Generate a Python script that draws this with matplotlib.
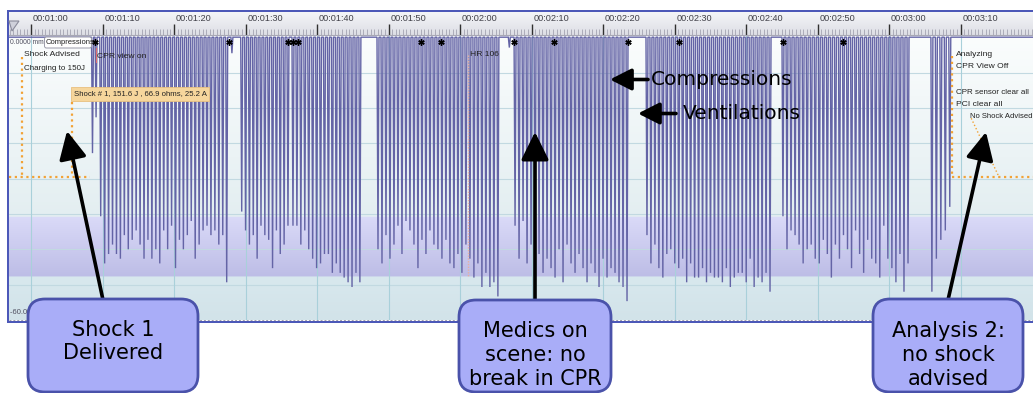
import numpy as np
import matplotlib
matplotlib.use("Agg")
import matplotlib.pyplot as plt
from matplotlib.patches import FancyBboxPatch, Rectangle, Polygon
from matplotlib.colors import to_rgb

# ------------------------------------------------------------------ data
tick_seconds = [60, 70, 80, 90, 100, 110, 120, 130, 140, 150, 160, 170, 180, 190]
tick_labels = ["00:01:00", "00:01:10", "00:01:20", "00:01:30", "00:01:40",
               "00:01:50", "00:02:00", "00:02:10", "00:02:20", "00:02:30",
               "00:02:40", "00:02:50", "00:03:00", "00:03:10"]

# compression blocks (seconds) and the depth (mm) of every compression in them
seg_start = [69.75, 89.47, 96.64, 108.53, 127.7, 146.15, 165.17, 186.0]
seg_end = [87.37, 95.94, 106.0, 125.3, 143.36, 163.36, 182.66, 188.5]
depth_seg1 = [-38, -48, -46, -44, -46, -47, -42, -45, -43, -41, -44, -47, -43, -47,
              -45, -48, -41, -45, -40, -49, -43, -45, -42, -39, -47, -44, -41, -40,
              -42, -41, -44, -42, -52]
depth_seg2 = [-37, -41, -44, -42, -47, -40, -42, -43, -49, -41, -46, -44, -40]
depth_seg3 = [-40, -40, -44, -41, -45, -47, -49, -48, -46, -46, -50, -48, -50, -51,
              -52, -53, -50, -52]
depth_seg4 = [-45, -48, -42, -47, -44, -40, -46, -39, -41, -44, -49, -43, -46, -41,
              -44, -45, -47, -43, -48, -49, -46, -50, -44, -47, -51, -48, -53, -50,
              -53, -52, -55]
depth_seg5 = [-40, -47, -39, -48, -44, -51, -46, -50, -47, -49, -51, -45, -52, -44,
              -48, -50, -46, -49, -52, -48, -50, -53, -47, -51, -49, -50, -52, -53,
              -56]
depth_seg6 = [-42, -48, -44, -49, -51, -46, -45, -48, -49, -47, -52, -48, -51, -51,
              -49, -52, -50, -51, -51, -52, -49, -53, -51, -50, -50, -52, -47, -53,
              -51, -52, -50, -54]
depth_seg7 = [-38, -45, -41, -42, -44, -48, -45, -44, -47, -48, -43, -46, -51, -44,
              -47, -42, -45, -49, -41, -46, -50, -43, -47, -48, -51, -40, -47, -49,
              -52, -46, -54, -48]
depth_seg8 = [-54, -47, -43, -41, -36]
seg_depths = [depth_seg1, depth_seg2, depth_seg3, depth_seg4,
              depth_seg5, depth_seg6, depth_seg7, depth_seg8]

# isolated small deflections outside the blocks
extra_t = [68.6, 69.1, 88.1, 126.9]
extra_d = [-24.6, -17.0, -3.4, -2.2]

# ventilation markers (*)
vent_t = [68.95, 87.69, 95.94, 96.64, 97.34, 114.55, 117.34, 127.55,
          133.15, 143.50, 150.63, 165.17, 173.57]

# events
shock_advised_t = 58.75
shock_delivered_t = 65.73
hr_t = 121.1
analyze_t = 188.85
event_level = -29.7
target_band = (-50.8, -38.1)

# ------------------------------------------------------------------ layout helpers
W, H = 1033, 393
fig = plt.figure(figsize=(W / 100, H / 100), dpi=100)
fig.patch.set_facecolor("white")

T0 = 60 - 22 / 7.15
T1 = 60 + 1002 / 7.15
Y0, Y1 = -60.0, 0.25


def ax_px(x0, y0, x1, y1, **kw):
    return fig.add_axes([x0 / W, 1 - y1 / H, (x1 - x0) / W, (y1 - y0) / H], **kw)


NARROW = ["Liberation Sans", "DejaVu Sans"]

# ------------------------------------------------------------------ data panel
ax = ax_px(9, 36, W, 320)
ax.set_xlim(T0, T1)
ax.set_ylim(Y0, Y1)
ax.axis("off")

# background gradient
ys = np.linspace(Y1, Y0, 600)
img = np.zeros((len(ys), 1, 3))


def lerp(c1, c2, f):
    a, b = np.array(to_rgb(c1)), np.array(to_rgb(c2))
    return a + (b - a) * f


for i, yv in enumerate(ys):
    if yv > target_band[1]:
        f = (Y1 - yv) / (Y1 - target_band[1])
        img[i, 0] = lerp("#fbfdfd", "#e3eef1", f)
    elif yv > target_band[0]:
        f = (target_band[1] - yv) / (target_band[1] - target_band[0])
        img[i, 0] = lerp("#dadaf8", "#bdbde6", f)
    else:
        f = (target_band[0] - yv) / (target_band[0] - Y0)
        img[i, 0] = lerp("#d8e8ee", "#d2e3e9", f)
ax.imshow(img, extent=[T0, T1, Y0, Y1], aspect="auto", zorder=0,
          interpolation="bilinear")

for k in range(1, 8):
    ax.axhline(-7.5 * k, color="#c2d9e1", lw=0.8, zorder=1)
for t in tick_seconds:
    ax.axvline(t, color="#a9d0da", lw=0.8, zorder=1)

# waveform
events = []
for s, e, d in zip(seg_start, seg_end, seg_depths):
    for t, dv in zip(np.linspace(s, e, len(d)), d):
        events.append((t, dv))
events += list(zip(extra_t, extra_d))
events.sort()
hw = 0.14
wx, wy = [T0], [0.0]
for t, dv in events:
    wx += [t - hw, t, t + hw]
    wy += [0.0, dv, 0.0]
wx.append(T1)
wy.append(0.0)
ax.plot(wx, wy, color="#6464a6", lw=1.0, zorder=3, solid_joinstyle="miter")

# ventilation asterisks
ax.plot(vent_t, [-0.95] * len(vent_t), ls="", marker=(6, 2, 0), ms=4.5,
        mec="black", mew=1.0, zorder=5)

# event lines (orange dotted)
orange = "#f2a235"
dot = dict(color=orange, lw=1.6, ls=(0, (1, 1.6)), zorder=4)
ax.plot([shock_advised_t, shock_advised_t], [-4.3, event_level], **dot)
ax.plot([shock_delivered_t, shock_delivered_t], [-13.7, event_level], **dot)
ax.plot([T0, 68.2], [event_level, event_level], **dot)
ax.plot([analyze_t, analyze_t], [-4.0, event_level], **dot)
ax.plot([analyze_t, T1], [event_level, event_level], **dot)
ax.plot([191.5, 195.4], [-17.2, event_level], color=orange, lw=1.0,
        ls=(0, (1, 1.6)), zorder=4)
ax.plot([hr_t, hr_t], [-3.7, -50.6], color="#e8b0a0", lw=1.0,
        ls=(0, (1, 1)), zorder=4)

# ------------------------------------------------------------------ ruler
rax = ax_px(9, 12, W, 36)
rax.set_xlim(T0, T1)
rax.set_ylim(0, 24)
rax.axis("off")
rg = np.zeros((50, 1, 3))
for i in range(50):
    rg[i, 0] = lerp("#f4f5f8", "#dcdde4", i / 49)
rax.imshow(rg, extent=[T0, T1, 0, 24], aspect="auto", zorder=0)
minor = np.arange(57.0, 200.2, 0.5)
rax.vlines(minor, 0.5, 7.0, color="#a4a4b2", lw=0.6, zorder=1)
rax.vlines(tick_seconds, 0.5, 12, color="#303030", lw=1.0, zorder=2)
rax.axhline(0.6, color="#a8a8b4", lw=0.8, zorder=2)
for t, lab in zip(tick_seconds, tick_labels):
    rax.text(t + 0.25, 17.5, lab, fontsize=6.6, family=NARROW, color="#404048",
             ha="left", va="center", zorder=3)

# ------------------------------------------------------------------ overlay (pixel space)
ov = fig.add_axes([0, 0, 1, 1], zorder=10)
ov.set_xlim(0, W)
ov.set_ylim(H, 0)
ov.axis("off")
ov.patch.set_alpha(0)

# frame
blue = "#4c58b8"
ov.add_patch(Rectangle((7.5, 9.5), W, 2.5, color=blue, lw=0))
ov.add_patch(Rectangle((7, 9.5), 2.2, 313.5, color=blue, lw=0))
ov.add_patch(Rectangle((7, 321), W, 2.2, color=blue, lw=0))
ov.plot([9, W], [319.5, 319.5], color="#a0a0aa", lw=0.7, ls=(0, (2, 2)))
ov.add_patch(Polygon([(9, 21), (19, 21), (12, 31)], closed=True,
                     facecolor="#cfd0da", edgecolor="#8a8a9a", lw=0.8))

# small chart labels
small = dict(fontsize=6.1, family=NARROW, color="#222222", va="center", ha="left")
ov.text(9.8, 42, "0.0000 mm", **dict(small, fontsize=4.9, color="#505060"))
ov.add_patch(FancyBboxPatch((44.5, 37), 47, 11, boxstyle="round,pad=0,rounding_size=2",
                            facecolor="white", edgecolor="#9a9aa8", lw=0.7))
ov.text(46, 42.5, "Compressions", **dict(small, fontsize=5.5))
ov.text(24, 54.5, "Shock Advised", **small)
ov.text(24, 68, "Charging to 150J", **dict(small, fontsize=5.8))
ov.plot([95.7, 95.7], [48, 62], color="#e07070", lw=0.8)
ov.text(97, 56, "CPR view on", **small)
ov.add_patch(Rectangle((71, 87), 138, 14, facecolor="#f6d69c",
                       edgecolor="#e8c080", lw=0.6))
ov.text(73.5, 94, "Shock # 1, 151.6 J , 66.9 ohms, 25.2 A", **dict(small, fontsize=5.6))
ov.text(470, 54, "HR 106", **small)
ov.text(955.5, 54, "Analyzing", **small)
ov.text(955.5, 67, "CPR View Off", **small)
ov.text(956.5, 92, "CPR sensor clear all", **dict(small, fontsize=5.8))
ov.text(956, 105, "PCI clear all", **small)
ov.text(970, 117, "No Shock Advised", **dict(small, fontsize=5.5))
ov.text(10, 313, "-60.0000 mm", **dict(small, fontsize=5.5, color="#505060"))

# callout boxes
box_fc, box_ec = "#a9adf8", "#4a52aa"
boxes = [((28, 299), 170, 93, "Shock 1\nDelivered", 341.5),
         ((459, 300), 152, 92, "Medics on\nscene: no\nbreak in CPR", 355),
         ((873, 299), 150, 93, "Analysis 2:\nno shock\nadvised", 355)]
for (bx, by), bw, bh, txt, ty in boxes:
    ov.add_patch(FancyBboxPatch((bx, by), bw, bh,
                                boxstyle="round,pad=0,rounding_size=17",
                                facecolor=box_fc, edgecolor=box_ec, lw=2.0, zorder=20))
    ov.text(bx + bw / 2, ty, txt, fontsize=15, family="DejaVu Sans", color="black",
            ha="center", va="center", linespacing=1.22, zorder=21)

# arrows
big = dict(arrowstyle="-|>,head_length=0.85,head_width=0.42", lw=2.6, color="black",
           mutation_scale=20, shrinkA=0, shrinkB=0)
ov.annotate("", xy=(67, 131), xytext=(103, 300), arrowprops=big, zorder=19)
ov.annotate("", xy=(535, 132), xytext=(535, 300), arrowprops=big, zorder=19)
ov.annotate("", xy=(986, 132), xytext=(948, 300), arrowprops=big, zorder=19)
side = dict(arrowstyle="-|>,head_length=0.65,head_width=0.33", lw=2.6, color="black",
            mutation_scale=20, shrinkA=0, shrinkB=0)
ov.annotate("", xy=(610, 79.5), xytext=(648, 79.5), arrowprops=side, zorder=19)
ov.annotate("", xy=(638, 113.5), xytext=(676, 113.5), arrowprops=side, zorder=19)
ov.text(651, 79.5, "Compressions", fontsize=14.5, family="DejaVu Sans", color="black",
        ha="left", va="center", zorder=21)
ov.text(683, 113.5, "Ventilations", fontsize=14.5, family="DejaVu Sans", color="black",
        ha="left", va="center", zorder=21)

fig.savefig("out.png", dpi=100, facecolor="white")
